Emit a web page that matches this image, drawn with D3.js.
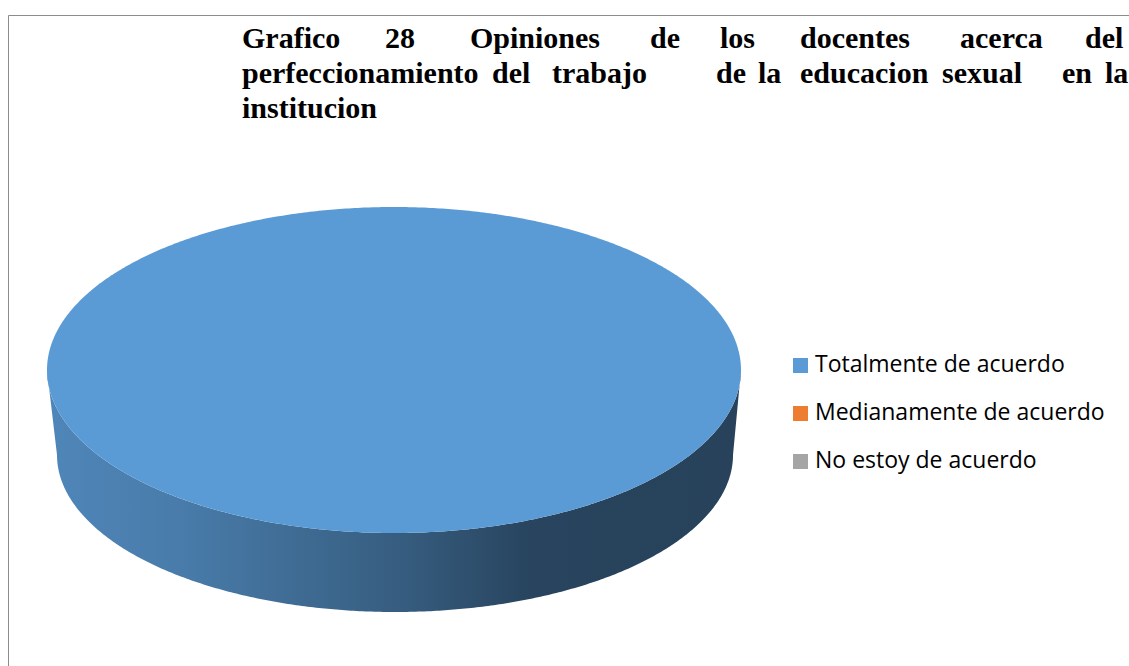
<!DOCTYPE html>
<html>
<head>
<meta charset="utf-8">
<script src="https://cdn.jsdelivr.net/npm/d3@7"></script>
<style>
  html, body { margin: 0; padding: 0; background: #fff; overflow: hidden; }
  svg { display: block; }
</style>
</head>
<body>
<svg></svg>
<script>
// categories and values
const categories = ["Totalmente de acuerdo", "Medianamente de acuerdo", "No estoy de acuerdo"];
const values = [100, 0, 0];
const colors = ["#5b9bd5", "#ed7d31", "#a5a5a5"];

// title, one list of words per line (justified in the original)
const titleLines = [
  ["Grafico", "28", "Opiniones", "de", "los", "docentes", "acerca", "del"],
  ["perfeccionamiento", "del", "trabajo", "de", "la", "educacion", "sexual", "en", "la"],
  ["institucion"]
];
const titleWordX = [
  [242, 385, 470, 650, 720, 800, 960, 1085],
  [242, 492, 552, 716, 758, 800, 942, 1062, 1105],
  [242]
];

const svg = d3.select("svg");
svg.attr("width", 1129).attr("height", 666);

// chart frame (only top and left visible)
svg.append("path")
  .attr("d", "M8.5,680 L8.5,15.5 L1140,15.5")
  .attr("fill", "none")
  .attr("stroke", "#8c8c8c")
  .attr("stroke-width", 1);

// title
const title = svg.append("g").attr("fill", "#000");

titleLines.forEach((words, i) => {
  title.selectAll(null)
    .data(words)
    .enter().append("text")
    .attr("x", (d, j) => titleWordX[i][j])
    .attr("y", 48 + i * 35)
    .style("font-family", "\"Liberation Serif\"")
    .style("font-weight", "bold")
    .style("font-size", "30px")
    .text(d => d);
});

// 3d pie
const top3d = { cx: 394, cy: 370, rx: 347, ry: 163 };
const bot3d = { cx: 395, cy: 455, rx: 338, ry: 157 };

const pie = d3.pie().sort(null).value(d => d.value);
const arcs = pie(categories.map((c, i) => ({ name: c, value: values[i], color: colors[i] })));

const pt = (e, a) => {
  const t = a - Math.PI / 2;
  return [e.cx + e.rx * Math.cos(t), e.cy + e.ry * Math.sin(t)];
};

const defs = svg.append("defs");
arcs.forEach((d, i) => {
  const c = d3.color(colors[i]);
  const grad = defs.append("linearGradient")
    .attr("id", "side" + i)
    .attr("gradientUnits", "userSpaceOnUse")
    .attr("x1", top3d.cx - top3d.rx).attr("x2", top3d.cx + top3d.rx)
    .attr("y1", 0).attr("y2", 0);
  const stops = [
    [0, c.darker(0.4)],
    [0.2, c.darker(0.65)],
    [0.5, c.darker(1.4)],
    [0.7, c.darker(2.3)],
    [1, c.darker(2.4)]
  ];
  stops.forEach(s => grad.append("stop").attr("offset", s[0]).attr("stop-color", s[1]));
});

const pieG = svg.append("g");
const step = Math.PI / 360;

// sides: front half (angles between pi/2 and 3pi/2)
arcs.filter(d => d.endAngle > d.startAngle).forEach(d => {
  const a0 = Math.max(d.startAngle, Math.PI / 2);
  const a1 = Math.min(d.endAngle, Math.PI * 3 / 2);
  if (a1 <= a0) return;
  const topPts = d3.range(a0, a1, step).concat([a1]).map(a => pt(top3d, a));
  const botPts = d3.range(a0, a1, step).concat([a1]).map(a => pt(bot3d, a)).reverse();
  pieG.append("path")
    .attr("d", d3.line()(topPts.concat(botPts)) + "Z")
    .attr("fill", `url(#side${d.index})`);
});

// tops
arcs.filter(d => d.endAngle > d.startAngle).forEach(d => {
  const full = d.endAngle - d.startAngle >= Math.PI * 2 - 1e-6;
  const pts = d3.range(d.startAngle, d.endAngle, step).concat([d.endAngle]).map(a => pt(top3d, a));
  if (!full) pts.unshift([top3d.cx, top3d.cy]);
  pieG.append("path")
    .attr("d", d3.line()(pts) + "Z")
    .attr("fill", colors[d.index]);
});

// legend
const legend = svg.append("g");

const item = legend.selectAll("g")
  .data(categories)
  .enter().append("g")
  .attr("transform", (d, i) => `translate(793,${358 + i * 48})`);

item.append("rect")
  .attr("width", 15)
  .attr("height", 15)
  .attr("fill", (d, i) => colors[i]);

item.append("text")
  .attr("x", 22)
  .attr("y", 14)
  .attr("fill", "#000")
  .style("font-family", "\"Open Sans\"")
  .style("font-size", "23px")
  .text(d => d);
</script>
</body>
</html>
